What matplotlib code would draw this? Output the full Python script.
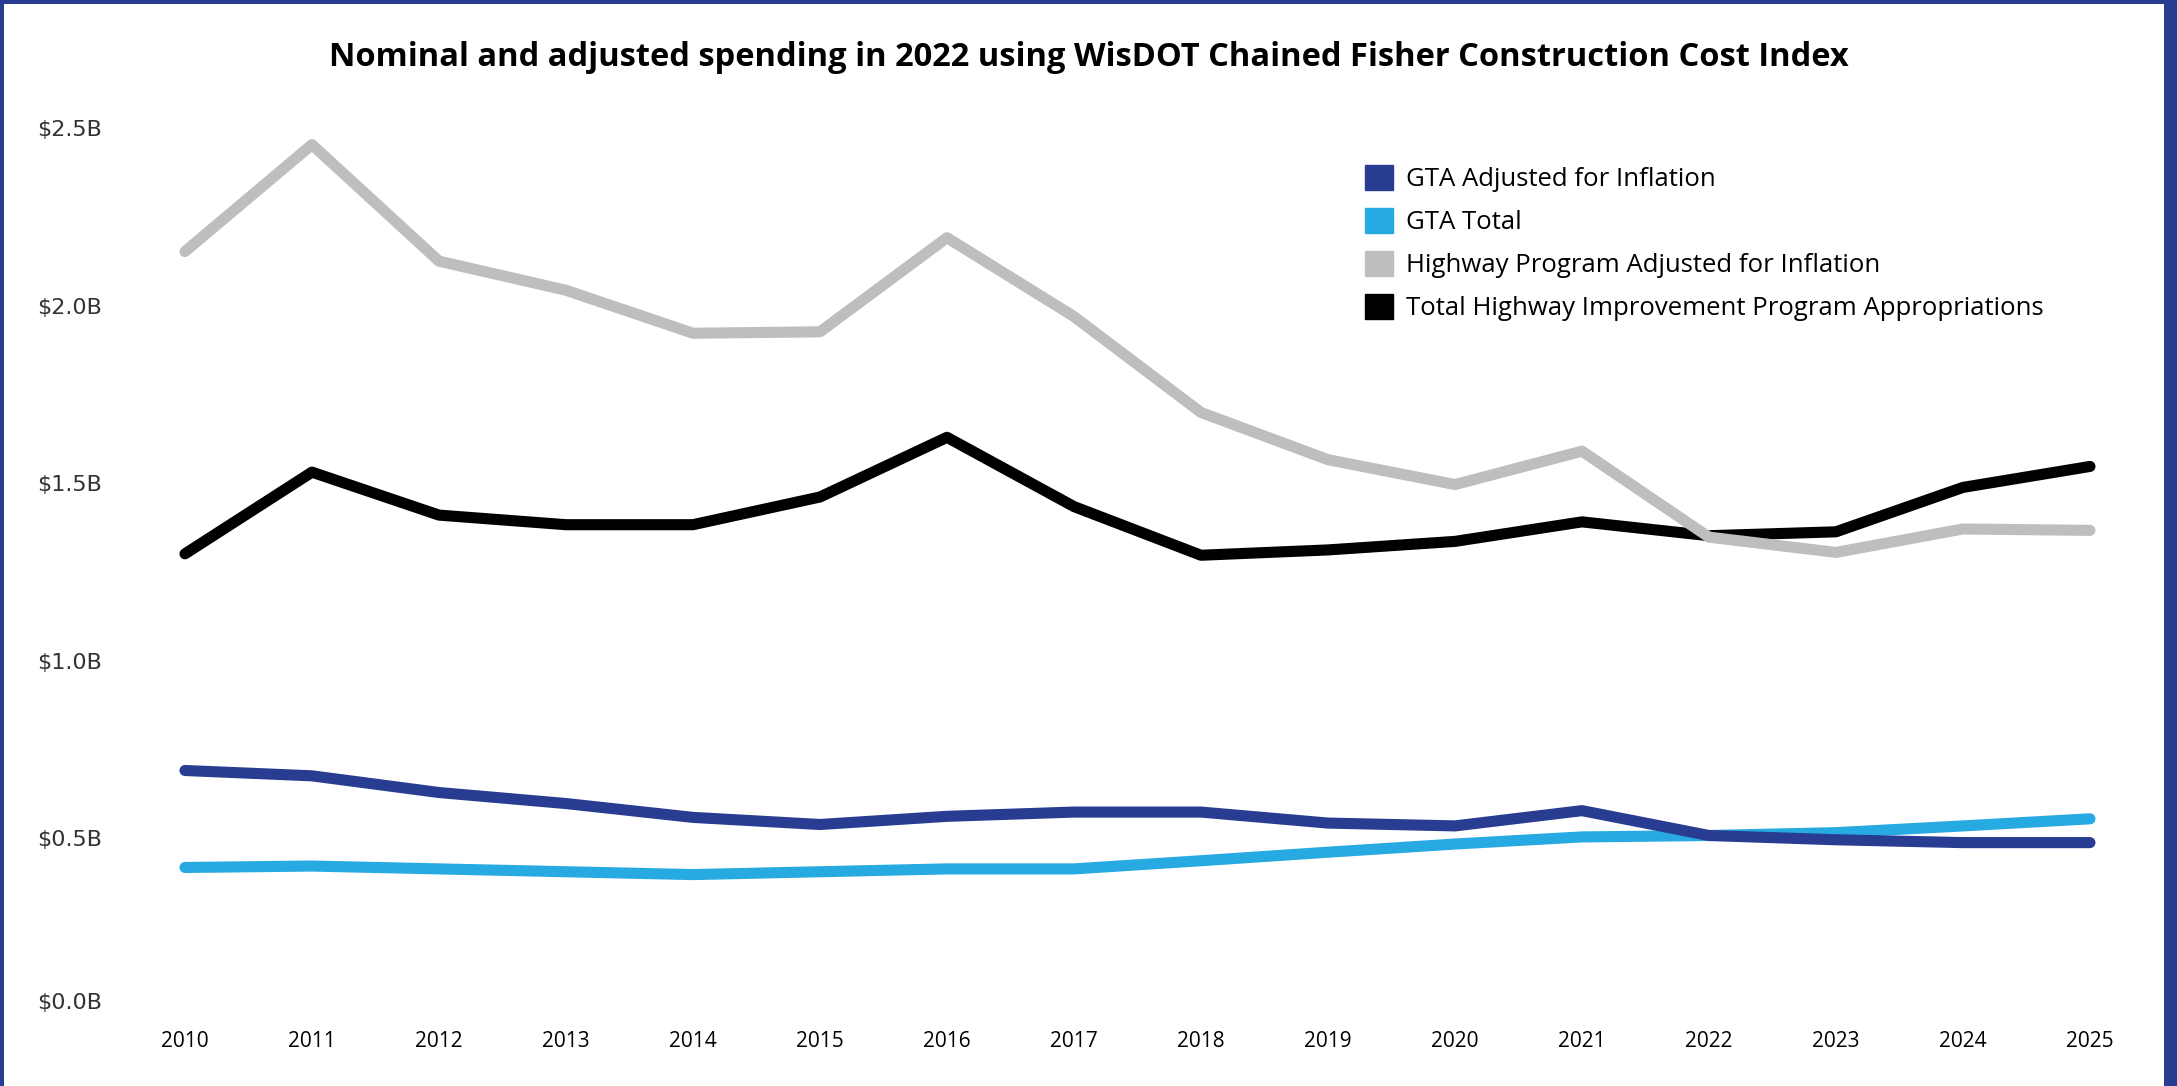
import matplotlib
matplotlib.use("Agg")
import matplotlib.pyplot as plt
from matplotlib.patches import Patch, Rectangle
from matplotlib.transforms import ScaledTranslation

# data (billions of dollars)
years = list(range(2010, 2026))
gta_adjusted = [0.691, 0.676, 0.629, 0.598, 0.559, 0.539, 0.562, 0.574,
                0.574, 0.543, 0.535, 0.578, 0.508, 0.496, 0.488, 0.488]
gta_total = [0.418, 0.422, 0.414, 0.406, 0.398, 0.406, 0.414, 0.414,
             0.437, 0.461, 0.484, 0.504, 0.508, 0.516, 0.535, 0.555]
highway_adjusted = [2.152, 2.453, 2.125, 2.043, 1.922, 1.926, 2.191, 1.969,
                    1.699, 1.566, 1.496, 1.590, 1.348, 1.305, 1.371, 1.367]
highway_total = [1.301, 1.531, 1.410, 1.383, 1.383, 1.461, 1.629, 1.434,
                 1.297, 1.312, 1.336, 1.391, 1.352, 1.363, 1.488, 1.547]
series_names = ["GTA Adjusted for Inflation", "GTA Total",
                "Highway Program Adjusted for Inflation",
                "Total Highway Improvement Program Appropriations"]
y_ticks = [0, 0.5, 1.0, 1.5, 2.0, 2.5]
y_labels = ["$0.0B", "$0.5B", "$1.0B", "$1.5B", "$2.0B", "$2.5B"]

c_dark = "#283c91"
c_light = "#27a9e1"
c_gray = "#bcbec0"
c_black = "#000000"

plt.rcParams['font.family'] = ['Open Sans', 'DejaVu Sans']

fig = plt.figure(figsize=(21.77, 10.86), dpi=100)
ax = fig.add_axes([0.0558, 0.0645, 0.9334, 0.8177])

lw = 8
ax.plot(years, highway_total, color=c_black, lw=lw, solid_capstyle='round', zorder=2, clip_on=False)
ax.plot(years, highway_adjusted, color=c_gray, lw=lw, solid_capstyle='round', zorder=3, clip_on=False)
ax.plot(years, gta_total, color=c_light, lw=lw, solid_capstyle='round', zorder=4, clip_on=False)
ax.plot(years, gta_adjusted, color=c_dark, lw=lw, solid_capstyle='round', zorder=5, clip_on=False)

ax.set_xlim(2009.5, 2025.5)
ax.set_ylim(0, 2.5)
ax.set_xticks(years)
ax.set_xticklabels([str(y) for y in years], fontsize=15)
ax.set_yticks(y_ticks)
ax.set_yticklabels(y_labels, fontsize=16, color="#333333", fontfamily='DejaVu Sans')
ax.tick_params(axis='both', length=0)
ax.tick_params(axis='y', pad=14)
ax.tick_params(axis='x', pad=11)
for s in ax.spines.values():
    s.set_visible(False)

# tableau nudges the bottom label up so it stays inside the pane
lab0 = ax.get_yticklabels()[0]
lab0.set_transform(lab0.get_transform() + ScaledTranslation(0, 11 / 72, fig.dpi_scale_trans))

handles = [Patch(color=c) for c in [c_dark, c_light, c_gray, c_black]]
fig.legend(handles, series_names, loc='upper left', bbox_to_anchor=(0.627, 0.848),
           frameon=False, fontsize=18.5, handlelength=1.1, handleheight=1.1,
           handletextpad=0.5, labelspacing=0.62, borderpad=0, borderaxespad=0)

fig.text(0.5, 0.947, "Nominal and adjusted spending in 2022 using WisDOT Chained Fisher Construction Cost Index",
         ha='center', va='center', fontsize=23.5, fontweight='bold')

# dark blue frame on left, top and right
fig.add_artist(Rectangle((0, 0), 4 / 2177, 1, transform=fig.transFigure, color=c_dark, lw=0))
fig.add_artist(Rectangle((0, 1 - 4 / 1086), 1, 4 / 1086, transform=fig.transFigure, color=c_dark, lw=0))
fig.add_artist(Rectangle((1 - 13 / 2177, 0), 13 / 2177, 1, transform=fig.transFigure, color=c_dark, lw=0))

fig.savefig("out.png", dpi=100)
